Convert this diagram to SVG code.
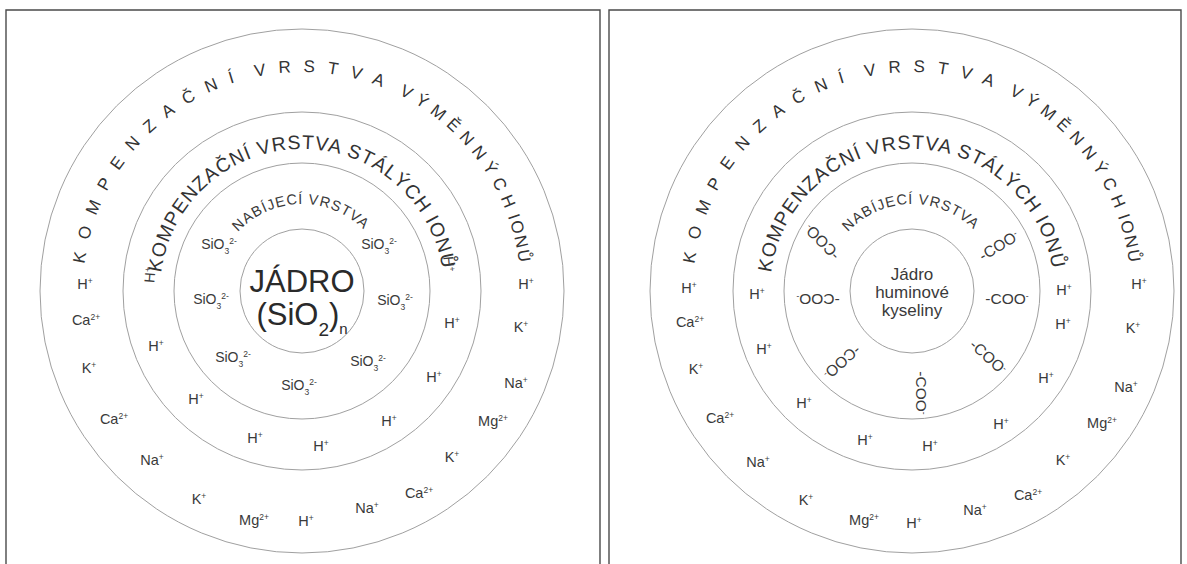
<svg xmlns="http://www.w3.org/2000/svg" width="1187" height="564" viewBox="0 0 1187 564">
<style>
text { font-family: "Liberation Sans", Arial, sans-serif; fill: #3a3a3a; }
.frame { fill: none; stroke: #4a4a4a; stroke-width: 1.4; }
.ring { fill: none; stroke: #a0a0a0; stroke-width: 1; }
.t1 { font-size: 17px; fill: #333; }
.w1 { letter-spacing: 12.4px; }
.s1 { letter-spacing: 3.8px; }
.w2 { letter-spacing: 12.4px; }
.s2 { letter-spacing: 1.3px; }
.w3 { letter-spacing: 6.4px; }
.s3 { letter-spacing: -3.6px; }
.w4 { letter-spacing: 1.8px; }
.t2 { font-size: 19.5px; letter-spacing: 1.05px; fill: #333; }
.t3 { font-size: 14.5px; letter-spacing: 0.96px; }
.ion { font-size: 14.5px; text-anchor: middle; }
.sup { font-size: 8.5px; baseline-shift: super; }
.sub { font-size: 8.5px; baseline-shift: sub; }
.si { font-size: 14px; text-anchor: middle; }
.core { font-size: 31px; text-anchor: middle; fill: #2a2a2a; }
.csub { font-size: 19px; baseline-shift: sub; }
.csub2 { font-size: 15px; baseline-shift: sub; }
.hum { font-size: 17px; text-anchor: middle; }
.coo { font-size: 15.5px; text-anchor: middle; }
</style>
<defs>
<path id="La" d="M83,291 A219,219 0 0 1 521,291"/>
<path id="Lb" d="M160,291 A142,142 0 0 1 444,291"/>
<path id="Lc" d="M215,291 A87,87 0 0 1 389,291"/>
<path id="Ra" d="M693,291 A219,219 0 0 1 1131,291"/>
<path id="Rb" d="M770,291 A142,142 0 0 1 1054,291"/>
<path id="Rc" d="M825,291 A87,87 0 0 1 999,291"/>
</defs>

<g id="left-panel">
  <path class="frame" d="M6,566 V10 H600 V566"/>
  <g id="left-rings">
    <circle class="ring" cx="302" cy="291" r="262"/>
    <circle class="ring" cx="302" cy="291" r="179"/>
    <circle class="ring" cx="302" cy="291" r="128"/>
    <circle class="ring" cx="302" cy="291" r="62"/>
  </g>
  <g id="left-ring-labels">
    <text class="t1" xml:space="preserve"><textPath href="#La" startOffset="27"><tspan class="w1">KOMPENZAČNÍ</tspan><tspan class="s1"> </tspan><tspan class="w2">VRSTVA</tspan><tspan class="s2"> </tspan><tspan class="w3">VÝMĚNNÝCH</tspan><tspan class="s3"> </tspan><tspan class="w4">IONŮ</tspan></textPath></text>
    <text class="t2"><textPath href="#Lb" startOffset="18.3">KOMPENZAČNÍ VRSTVA STÁLÝCH IONŮ</textPath></text>
    <text class="t3"><textPath href="#Lc" startOffset="64.6">NABÍJECÍ VRSTVA</textPath></text>
  </g>
  <g id="left-core">
    <text class="core" x="302" y="292">JÁDRO</text>
    <text class="core" x="302" y="325">(SiO<tspan class="csub">2</tspan>)<tspan class="csub2">n</tspan></text>
  </g>
  <g id="left-charging">
    <text class="si" x="219" y="249">SiO<tspan class="sub">3</tspan><tspan class="sup">2-</tspan></text>
    <text class="si" x="379" y="249">SiO<tspan class="sub">3</tspan><tspan class="sup">2-</tspan></text>
    <text class="si" x="211" y="304">SiO<tspan class="sub">3</tspan><tspan class="sup">2-</tspan></text>
    <text class="si" x="395" y="305">SiO<tspan class="sub">3</tspan><tspan class="sup">2-</tspan></text>
    <text class="si" x="233" y="362">SiO<tspan class="sub">3</tspan><tspan class="sup">2-</tspan></text>
    <text class="si" x="368" y="366">SiO<tspan class="sub">3</tspan><tspan class="sup">2-</tspan></text>
    <text class="si" x="299" y="390">SiO<tspan class="sub">3</tspan><tspan class="sup">2-</tspan></text>
  </g>
  <g id="left-fixed-ions">
    <text class="ion" transform="translate(150,275) rotate(-85)" y="5">H<tspan class="sup">+</tspan></text>
    <text class="ion" transform="translate(449,264) rotate(85)" y="5">H<tspan class="sup">+</tspan></text>
    <text class="ion" x="156" y="351">H<tspan class="sup">+</tspan></text>
    <text class="ion" x="196" y="404">H<tspan class="sup">+</tspan></text>
    <text class="ion" x="255" y="443">H<tspan class="sup">+</tspan></text>
    <text class="ion" x="321" y="451">H<tspan class="sup">+</tspan></text>
    <text class="ion" x="389" y="426">H<tspan class="sup">+</tspan></text>
    <text class="ion" x="434" y="382">H<tspan class="sup">+</tspan></text>
    <text class="ion" x="452" y="328">H<tspan class="sup">+</tspan></text>
  </g>
  <g id="left-exchange-ions">
    <text class="ion" x="85" y="289">H<tspan class="sup">+</tspan></text>
    <text class="ion" x="86" y="325">Ca<tspan class="sup">2+</tspan></text>
    <text class="ion" x="89" y="373">K<tspan class="sup">+</tspan></text>
    <text class="ion" x="114" y="424">Ca<tspan class="sup">2+</tspan></text>
    <text class="ion" x="152" y="465">Na<tspan class="sup">+</tspan></text>
    <text class="ion" x="199" y="504">K<tspan class="sup">+</tspan></text>
    <text class="ion" x="254" y="525">Mg<tspan class="sup">2+</tspan></text>
    <text class="ion" x="306" y="526">H<tspan class="sup">+</tspan></text>
    <text class="ion" x="367" y="513">Na<tspan class="sup">+</tspan></text>
    <text class="ion" x="419" y="498">Ca<tspan class="sup">2+</tspan></text>
    <text class="ion" x="452" y="462">K<tspan class="sup">+</tspan></text>
    <text class="ion" x="493" y="426">Mg<tspan class="sup">2+</tspan></text>
    <text class="ion" x="516" y="388">Na<tspan class="sup">+</tspan></text>
    <text class="ion" x="521" y="332">K<tspan class="sup">+</tspan></text>
    <text class="ion" x="526" y="289">H<tspan class="sup">+</tspan></text>
  </g>
</g>

<g id="right-panel">
  <path class="frame" d="M609,566 V10 H1181 V566"/>
  <g id="right-rings">
    <circle class="ring" cx="912" cy="291" r="262"/>
    <circle class="ring" cx="912" cy="291" r="179"/>
    <circle class="ring" cx="912" cy="291" r="128"/>
    <circle class="ring" cx="912" cy="291" r="62"/>
  </g>
  <g id="right-ring-labels">
    <text class="t1" xml:space="preserve"><textPath href="#Ra" startOffset="27"><tspan class="w1">KOMPENZAČNÍ</tspan><tspan class="s1"> </tspan><tspan class="w2">VRSTVA</tspan><tspan class="s2"> </tspan><tspan class="w3">VÝMĚNNÝCH</tspan><tspan class="s3"> </tspan><tspan class="w4">IONŮ</tspan></textPath></text>
    <text class="t2"><textPath href="#Rb" startOffset="18.3">KOMPENZAČNÍ VRSTVA STÁLÝCH IONŮ</textPath></text>
    <text class="t3"><textPath href="#Rc" startOffset="64.6">NABÍJECÍ VRSTVA</textPath></text>
  </g>
  <g id="right-core">
    <text class="hum" x="912" y="280">Jádro</text>
    <text class="hum" x="912" y="298">huminové</text>
    <text class="hum" x="912" y="316">kyseliny</text>
  </g>
  <g id="right-charging">
    <text class="coo" transform="translate(1007,299)" y="5">-COO<tspan class="sup">-</tspan></text>
    <text class="coo" transform="translate(999,246) rotate(-31)" y="5">-COO<tspan class="sup">-</tspan></text>
    <text class="coo" transform="translate(988,357) rotate(42)" y="5">-COO<tspan class="sup">-</tspan></text>
    <text class="coo" transform="translate(921,393) rotate(90)" y="5">-COO<tspan class="sup">-</tspan></text>
    <text class="coo" transform="translate(842,362) rotate(-42) scale(-1,1)" y="5">-COO<tspan class="sup">-</tspan></text>
    <text class="coo" transform="translate(818,299) scale(-1,1)" y="5">-COO<tspan class="sup">-</tspan></text>
    <text class="coo" transform="translate(822,242) rotate(45) scale(-1,1)" y="5">-COO<tspan class="sup">-</tspan></text>
  </g>
  <g id="right-fixed-ions">
    <text class="ion" x="757" y="299">H<tspan class="sup">+</tspan></text>
    <text class="ion" x="764" y="354">H<tspan class="sup">+</tspan></text>
    <text class="ion" x="804" y="408">H<tspan class="sup">+</tspan></text>
    <text class="ion" x="865" y="445">H<tspan class="sup">+</tspan></text>
    <text class="ion" x="930" y="451">H<tspan class="sup">+</tspan></text>
    <text class="ion" x="1001" y="429">H<tspan class="sup">+</tspan></text>
    <text class="ion" x="1046" y="383">H<tspan class="sup">+</tspan></text>
    <text class="ion" x="1063" y="329">H<tspan class="sup">+</tspan></text>
    <text class="ion" x="1064" y="295">H<tspan class="sup">+</tspan></text>
  </g>
  <g id="right-exchange-ions">
    <text class="ion" x="689" y="293">H<tspan class="sup">+</tspan></text>
    <text class="ion" x="690" y="327">Ca<tspan class="sup">2+</tspan></text>
    <text class="ion" x="696" y="374">K<tspan class="sup">+</tspan></text>
    <text class="ion" x="720" y="423">Ca<tspan class="sup">2+</tspan></text>
    <text class="ion" x="758" y="467">Na<tspan class="sup">+</tspan></text>
    <text class="ion" x="806" y="505">K<tspan class="sup">+</tspan></text>
    <text class="ion" x="864" y="525">Mg<tspan class="sup">2+</tspan></text>
    <text class="ion" x="914" y="528">H<tspan class="sup">+</tspan></text>
    <text class="ion" x="975" y="515">Na<tspan class="sup">+</tspan></text>
    <text class="ion" x="1028" y="500">Ca<tspan class="sup">2+</tspan></text>
    <text class="ion" x="1063" y="465">K<tspan class="sup">+</tspan></text>
    <text class="ion" x="1102" y="428">Mg<tspan class="sup">2+</tspan></text>
    <text class="ion" x="1126" y="392">Na<tspan class="sup">+</tspan></text>
    <text class="ion" x="1133" y="333">K<tspan class="sup">+</tspan></text>
    <text class="ion" x="1139" y="289">H<tspan class="sup">+</tspan></text>
  </g>
</g>
</svg>
